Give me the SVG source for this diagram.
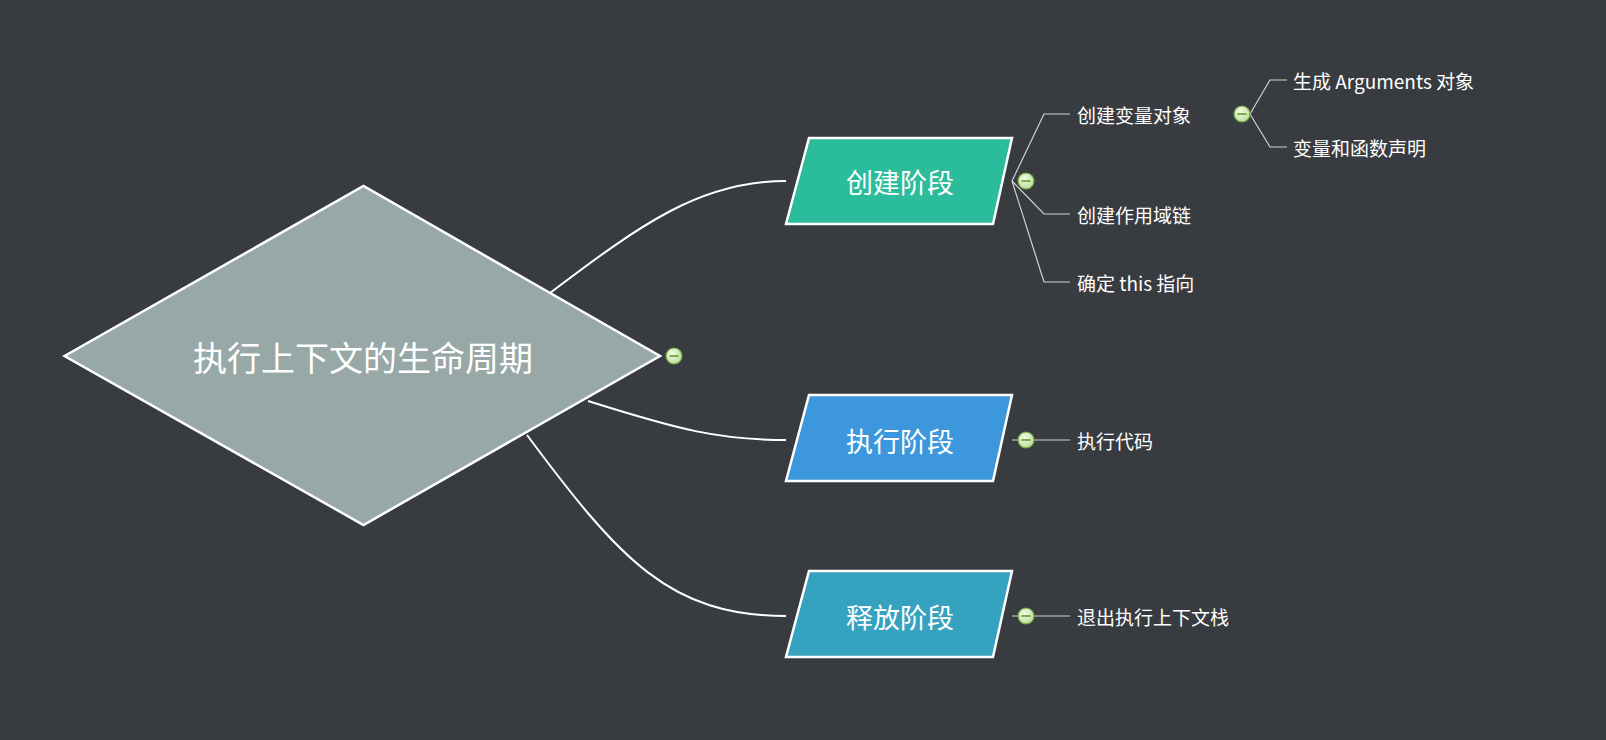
<svg xmlns="http://www.w3.org/2000/svg" width="1606" height="740" viewBox="0 0 1606 740">
<defs>
<radialGradient id="cg" cx="0.4" cy="0.35" r="0.7"><stop offset="0" stop-color="#f4fbe8"/><stop offset="1" stop-color="#b9dc95"/></radialGradient>
<g id="col"><circle r="8" fill="url(#cg)" stroke="#6ea83c" stroke-width="1.2"/><line x1="-4.5" y1="0" x2="4.5" y2="0" stroke="#5f9a33" stroke-width="1.6"/></g>
</defs>
<style>
text{font-family:"Noto Sans CJK SC","Liberation Sans",sans-serif;fill:#fff;dominant-baseline:central}
.big{font-size:34px;text-anchor:middle}
.mid{font-size:27px;text-anchor:middle}
.sm{font-size:19px}
.c1{fill:none;stroke:#fff;stroke-width:2}
.c2{fill:none;stroke:#cfd2d4;stroke-width:1.2}
.sh{stroke:#fff;stroke-width:2.5}
</style>
<rect width="1606" height="740" fill="#383c40"/>
<g id="connectors">
<path class="c1" d="M550 293 C640 225 700 181 786 181"/>
<path class="c1" d="M588 401 C680 430 720 440 786 440"/>
<path class="c1" d="M527 435 C620 560 670 616 786 616"/>
<path class="c2" d="M1012 181 L1044 114 L1070 114"/>
<path class="c2" d="M1012 181 L1044 214 L1070 214"/>
<path class="c2" d="M1012 181 L1044 282 L1070 282"/>
<path class="c2" d="M1250 114 L1270 80 L1287 80"/>
<path class="c2" d="M1250 114 L1270 147 L1287 147"/>
<path class="c2" d="M1012 440 L1070 440"/>
<path class="c2" d="M1012 616 L1070 616"/>
</g>
<g id="root">
<polygon class="sh" points="64.5,356 363.5,186 660,356 363.5,525" fill="#98a8a6"/>
<text class="big" x="363" y="356">执行上下文的生命周期</text>
<use href="#col" x="674" y="356"/>
</g>
<g id="n1">
<polygon class="sh" points="809,138 1012,138 993,224 786,224" fill="#2bbd9b"/>
<text class="mid" x="900" y="181">创建阶段</text>
<use href="#col" x="1026" y="181"/>
</g>
<g id="n2">
<polygon class="sh" points="809,395 1012,395 993,481 786,481" fill="#3c97dc"/>
<text class="mid" x="900" y="440">执行阶段</text>
<use href="#col" x="1026" y="440"/>
</g>
<g id="n3">
<polygon class="sh" points="809,571 1012,571 993,657 786,657" fill="#35a2bf"/>
<text class="mid" x="900" y="616">释放阶段</text>
<use href="#col" x="1026" y="616"/>
</g>
<g id="n11"><text class="sm" x="1077" y="114">创建变量对象</text><use href="#col" x="1242" y="114"/></g>
<g id="n111"><text class="sm" x="1293" y="80">生成 Arguments 对象</text></g>
<g id="n112"><text class="sm" x="1293" y="147">变量和函数声明</text></g>
<g id="n12"><text class="sm" x="1077" y="214">创建作用域链</text></g>
<g id="n13"><text class="sm" x="1077" y="282">确定 this 指向</text></g>
<g id="n21"><text class="sm" x="1077" y="440">执行代码</text></g>
<g id="n31"><text class="sm" x="1077" y="616">退出执行上下文栈</text></g>
</svg>
